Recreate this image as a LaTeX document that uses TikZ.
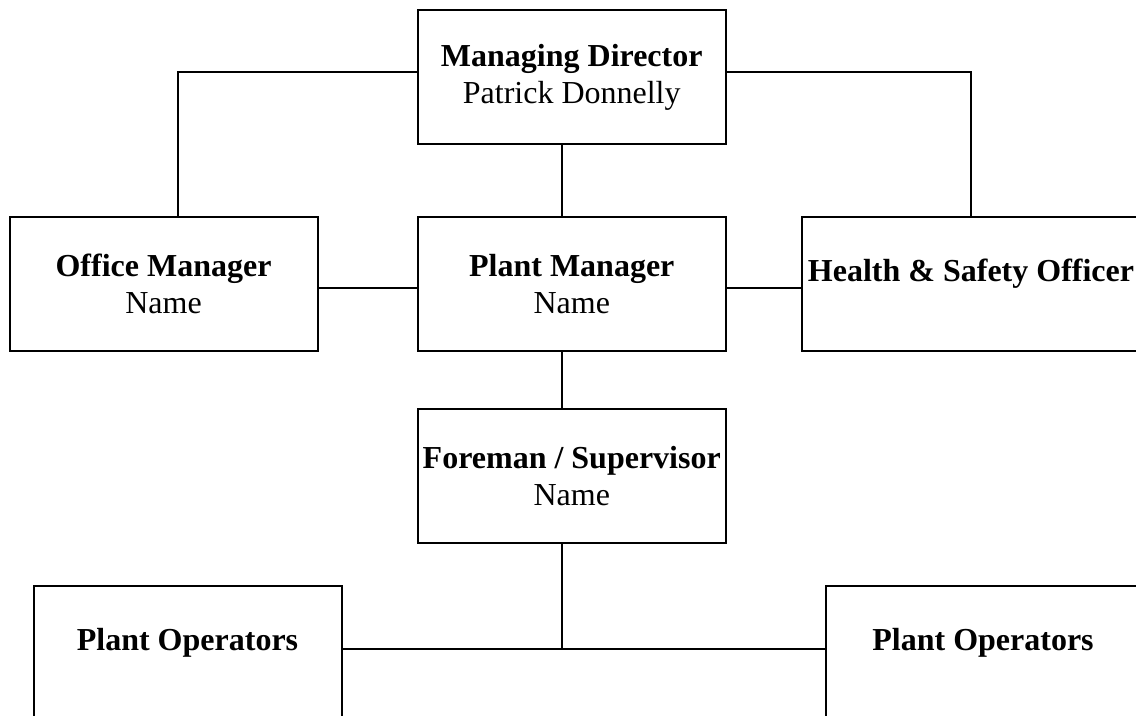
\documentclass[tikz,border=0pt]{standalone}
\usepackage{fontspec}
\setmainfont{Liberation Serif}
\usepackage{xcolor}
\definecolor{ocInk}{RGB}{0, 0, 0}
\definecolor{ocPaper}{RGB}{255, 255, 255}

\tikzset{
  postbox/.style={draw=ocInk, line width=1pt, fill=ocPaper, inner sep=0pt,
    minimum width=154pt, minimum height=67pt, align=center,
    font=\fontsize{16}{18.5}\selectfont},
  onepost/.style={postbox, text height=11pt, text depth=13pt},
  link/.style={draw=ocInk, line width=1pt},
}

\begin{document}
\begin{tikzpicture}[x=0.5pt, y=-0.5pt]
    \fill[ocPaper] (0,0) rectangle (1136,716);
    \useasboundingbox (0,0) rectangle (1136,716);
    \clip (0,0) rectangle (1136,716);
    % boxes with a title and a name
    \foreach \nm/\x/\y/\titre/\sous in {%
      md/571.75/77.5/{Managing Director}/{Patrick Donnelly},%
      om/163.5/284/{Office Manager}/{Name},%
      pm/571.75/284/{Plant Manager}/{Name},%
      fs/571.75/476/{Foreman / Supervisor}/{Name}%
    }{%
      \node[postbox] (\nm) at (\x, \y) {\textbf{\titre}\\\sous};
    }
    % boxes with a title only
    \node[onepost, minimum width=169pt] (hs) at (971, 284)
      {\textbf{Health \& Safety Officer}};
    \node[onepost] (po1) at (187.5, 653) {\textbf{Plant Operators}};
    \node[onepost, minimum width=157pt] (po2) at (983, 653)
      {\textbf{Plant Operators}};
    % rails
    \coordinate (topline) at (0, 72);
    \coordinate (midline) at (0, 288);
    \coordinate (spine) at (562, 0);
    \coordinate (opline) at (562, 649);
    \draw[link] (md.west |- topline) -| ([xshift=7pt]om.north);
    \draw[link] (md.east |- topline) -| (hs.north);
    \draw[link] (md.south -| spine) -- (pm.north -| spine);
    \draw[link] (om.east |- midline) -- (pm.west |- midline);
    \draw[link] (pm.east |- midline) -- (hs.west |- midline);
    \draw[link] (pm.south -| spine) -- (fs.north -| spine);
    \draw[link] (fs.south -| spine) -- (opline);
    \draw[link] (po1.east |- opline) -- (po2.west |- opline);
  \end{tikzpicture}
\end{document}
